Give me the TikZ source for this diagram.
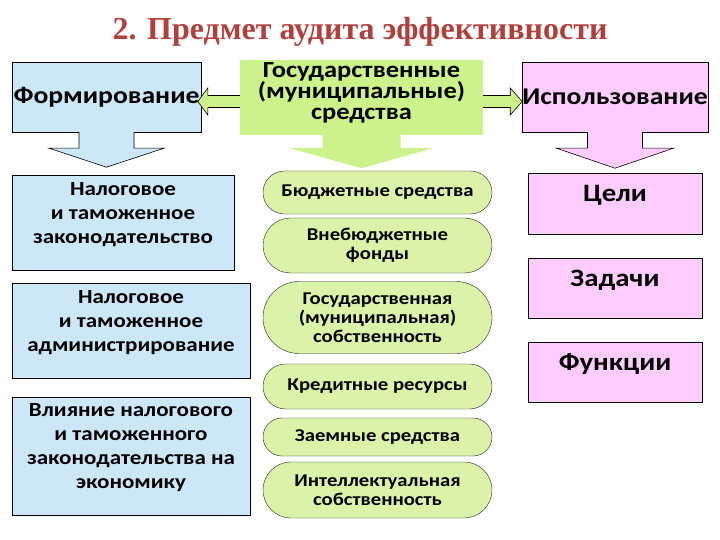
\documentclass[tikz,border=0pt]{standalone}
\usepackage{fontspec}
\setmainfont{Carlito}[FakeStretch=1.15]
\newfontfamily\titlefont{Liberation Serif}
\usetikzlibrary{positioning,calc,shapes.misc}
\definecolor{boxblue}{HTML}{CCE8F8}
\definecolor{boxpink}{HTML}{FFCCFF}
\definecolor{boxgreen}{HTML}{CCF28C}
\definecolor{ovalgreen}{HTML}{DAF3A8}
\definecolor{titlered}{HTML}{B0403C}

\begin{document}
\begin{tikzpicture}[x=1pt, y=-1pt,
  every node/.style={font=\bfseries, inner sep=0pt},
  bluebox/.style={rectangle, draw=black, fill=boxblue},
  pinkbox/.style={rectangle, draw=black, fill=boxpink},
  oval/.style={rounded rectangle, draw=black!85, fill=ovalgreen, minimum width=229pt, align=center, font=\bfseries\fontsize{18}{19}\selectfont},
  blocktext/.style={align=center, font=\bfseries\fontsize{20}{24}\selectfont},
  aimtext/.style={font=\bfseries\fontsize{25}{28}\selectfont},
  blockarrow/.style={draw=black, line width=0.6pt, line join=miter}]
  \useasboundingbox (0,0) rectangle (720,540);

  % title
  \node[font=\titlefont\bfseries\fontsize{32}{36}\selectfont, text=titlered] (title) at (360,32) {2. Предмет аудита эффективности};

  % top row
  \node[bluebox, minimum width=189pt, minimum height=70pt, font=\bfseries\fontsize{24}{26}\selectfont] (form) at (106.5,97) {Формирование};
  \node[rectangle, fill=boxgreen, minimum width=243pt, minimum height=75pt] (gov) at (361.5,97.5) {};
  \node[align=center, font=\bfseries\fontsize{23}{21}\selectfont] (govtext) at ([yshift=5pt]gov.center) {Государственные\\(муниципальные)\\средства};
  \node[pinkbox, minimum width=186pt, minimum height=70pt, font=\bfseries\fontsize{24}{26}\selectfont] (use) at (615,97) {Использование};

  % green arrows to the sides
  \draw[blockarrow, fill=boxgreen] ($(gov.west)+(0,-2)$) -- ++(-32,0) -- ++(0,-7.5) -- ($(gov.west)+(-42,4)$) -- ($(gov.west)+(-32,17.5)$) -- ++(0,-7.5) -- ($(gov.west)+(0,10)$);
  \draw[blockarrow, fill=boxgreen] ($(gov.east)+(0,-2)$) -- ++(27,0) -- ++(0,-7.5) -- ($(gov.east)+(39,4)$) -- ($(gov.east)+(27,17.5)$) -- ++(0,-7.5) -- ($(gov.east)+(0,10)$);

  % arrows down
  \draw[blockarrow, fill=boxblue] ($(form.south)+(-27.5,0)$) -- ++(0,16) -- ++(-30,0) -- ($(form.south)+(0,35)$) -- ++(57.5,-19) -- ++(-30,0) -- ($(form.south)+(27.5,0)$);
  \fill[boxgreen] ($(gov.south)+(-39,0)$) -- ++(0,13) -- ++(-32.5,0) -- ($(gov.south)+(0,33)$) -- ++(71.5,-20) -- ++(-32.5,0) -- ($(gov.south)+(39,0)$) -- cycle;
  \draw[blockarrow, fill=boxpink] ($(use.south)+(-27.5,0)$) -- ++(0,16) -- ++(-31,0) -- ($(use.south)+(0,36)$) -- ++(58.5,-20) -- ++(-31,0) -- ($(use.south)+(27.5,0)$);

  % left column
  \node[bluebox, minimum width=222pt, minimum height=95pt] (zakon) at (123,222.5) {};
  \node[blocktext] (zakontext) at ([yshift=8pt]zakon.center) {Налоговое\\и таможенное\\законодательство};
  \node[bluebox, minimum width=238pt, minimum height=95pt] (admin) at (131,330.5) {};
  \node[blocktext] (admintext) at ([yshift=8pt]admin.center) {Налоговое\\и таможенное\\администрирование};
  \node[bluebox, minimum width=238pt, minimum height=118pt] (vliyan) at (131,456) {};
  \node[blocktext] (vliyantext) at ([yshift=8pt]vliyan.center) {Влияние налогового\\и таможенного\\законодательства на\\экономику};

  % middle column
  \node[oval, minimum height=43pt] (budget) at (377.5,192.5) {Бюджетные средства};
  \node[oval, minimum height=55pt] (vnebud) at (377.5,245.5) {Внебюджетные\\фонды};
  \node[oval, minimum height=72pt] (sobst) at (377.5,317.5) {Государственная\\(муниципальная)\\собственность};
  \node[oval, minimum height=45pt] (kredit) at (377.5,386.5) {Кредитные ресурсы};
  \node[oval, minimum height=38pt] (zaem) at (377.5,437) {Заемные средства};
  \node[oval, minimum height=56pt] (intel) at (377.5,490) {Интеллектуальная\\собственность};

  % right column
  \node[pinkbox, minimum width=174pt, minimum height=61pt] (celi) at (615,203.5) {};
  \node[aimtext] (celitext) at ([yshift=8pt]celi.center) {Цели};
  \node[pinkbox, minimum width=174pt, minimum height=60pt] (zadachi) at (615,288) {};
  \node[aimtext] (zadachitext) at ([yshift=8pt]zadachi.center) {Задачи};
  \node[pinkbox, minimum width=174pt, minimum height=60pt] (funk) at (615,372) {};
  \node[aimtext] (funktext) at ([yshift=8pt]funk.center) {Функции};
\end{tikzpicture}
\end{document}
